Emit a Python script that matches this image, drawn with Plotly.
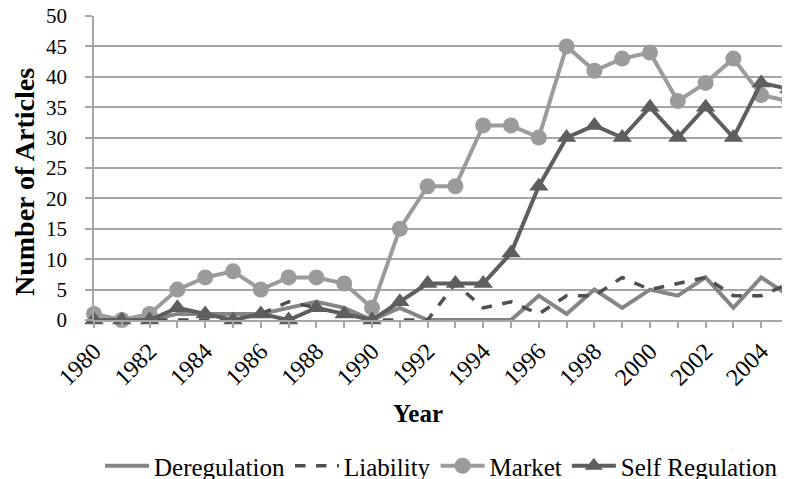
import plotly.graph_objects as go

years = list(range(1980, 2006))
deregulation = [0, 0, 0, 1, 1, 1, 1, 2, 3, 2, 0, 2, 0, 0, 0, 0, 4, 1, 5, 2, 5, 4, 7, 2, 7, 4]
liability =    [0, 0, 0, 0, 0, 0, 1, 3, 2, 1, 0, 0, 0, 6, 2, 3, 1, 4, 4, 7, 5, 6, 7, 4, 4, 6]
market =       [1, 0, 1, 5, 7, 8, 5, 7, 7, 6, 2, 15, 22, 22, 32, 32, 30, 45, 41, 43, 44, 36, 39, 43, 37, 36]
self_reg =     [0, 0, 0, 2, 1, 0, 1, 0, 2, 1, 0, 3, 6, 6, 6, 11, 22, 30, 32, 30, 35, 30, 35, 30, 39, 38]
tick_text = [str(y) if y % 2 == 0 else "" for y in years]
y_ticks = list(range(0, 51, 5))

FONT = "Liberation Serif"
GRID = "#a6a6a6"

fig = go.Figure()
fig.add_trace(go.Scatter(x=years, y=deregulation, name="Deregulation", mode="lines",
                         line=dict(color="#858585", width=4), cliponaxis=False))
fig.add_trace(go.Scatter(x=years, y=liability, name="Liability", mode="lines",
                         line=dict(color="#4f4f4f", width=3.5, dash="dash"), cliponaxis=False))
fig.add_trace(go.Scatter(x=years, y=market, name="Market", mode="lines+markers",
                         line=dict(color="#9b9b9b", width=4),
                         marker=dict(symbol="circle", size=16, color="#9b9b9b"), cliponaxis=False))
fig.add_trace(go.Scatter(x=years, y=self_reg, name="Self Regulation", mode="lines+markers",
                         line=dict(color="#5e5e5e", width=4),
                         marker=dict(symbol="triangle-up", size=17, color="#5e5e5e"), cliponaxis=False))

# page body has an 8px margin: figure is 782x471 and drawn at (8, 8)
W, H = 782, 471
L, R, T, B = 86, 1, 8, 159
PW, PH = W - L - R, H - T - B

def px(x):
    return (x - 8 - L) / PW

def py(y):
    return (H - B - (y - 8)) / PH

fig.update_layout(
    width=W, height=H,
    margin=dict(l=L, r=R, t=T, b=B, autoexpand=False),
    paper_bgcolor="white", plot_bgcolor="white",
    font=dict(family=FONT, size=22, color="black"),
    showlegend=True,
    legend=dict(orientation="h", x=0.5, xanchor="center", y=py(466), yanchor="middle",
                font=dict(family=FONT, size=25, color="black"), itemwidth=44,
                bgcolor="rgba(0,0,0,0)"),
    xaxis=dict(range=[1980, 2005], tickmode="array", tickvals=years, ticktext=tick_text,
               tickangle=-45, ticks="outside", ticklen=6, tickcolor=GRID, tickwidth=1.5,
               showline=True, linecolor=GRID, linewidth=1.5, showgrid=False, zeroline=False,
               automargin=False, ticklabeloverflow="allow",
               tickfont=dict(family=FONT, size=24, color="black")),
    yaxis=dict(range=[0, 50], tickmode="array", tickvals=y_ticks, ticks="outside", ticklen=7,
               tickcolor=GRID, tickwidth=1.5, showline=True, linecolor=GRID, linewidth=1.5,
               showgrid=True, gridcolor=GRID, gridwidth=1.5, zeroline=False,
               ticklabelstandoff=14, automargin=False, ticklabeloverflow="allow",
               tickfont=dict(family=FONT, size=21, color="black")),
    annotations=[
        dict(text="<b>Number of Articles</b>", xref="paper", yref="paper",
             x=px(24), y=py(182), xanchor="center", yanchor="middle",
             textangle=-90, showarrow=False, font=dict(family=FONT, size=28, color="black")),
        dict(text="<b>Year</b>", xref="paper", yref="paper",
             x=px(418), y=py(413), xanchor="center", yanchor="middle",
             showarrow=False, font=dict(family=FONT, size=25, color="black")),
    ],
)

fig.write_html("out.html")
